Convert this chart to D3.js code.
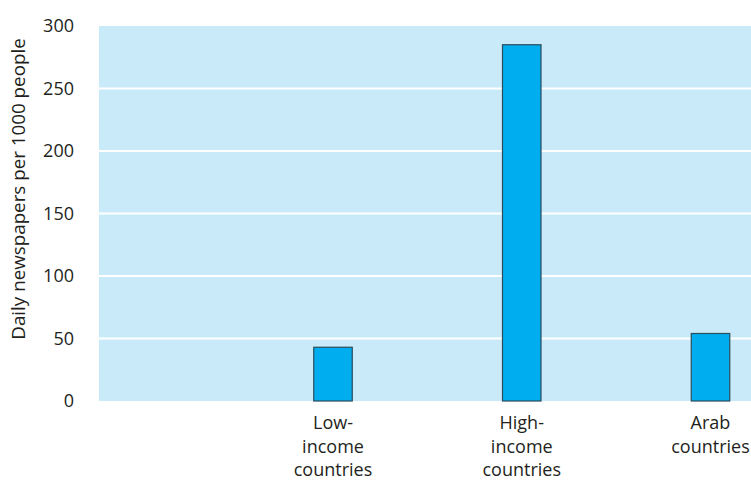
<!DOCTYPE html>
<html>
<head>
<meta charset="utf-8">
<script src="https://cdn.jsdelivr.net/npm/d3@7"></script>
<style>
  html, body { margin: 0; padding: 0; background: #fff; }
  svg { display: block; font-family: "Open Sans", "Noto Sans", sans-serif; }
</style>
</head>
<body>
<svg id="chart" width="751" height="480"></svg>
<script>
// Daily newspaper circulation by country group
const categories = ["Low-income countries", "High-income countries", "Arab countries"];
const categoryLines = [["Low-", "income", "countries"], ["High-", "income", "countries"], ["Arab", "countries"]];
const values = [43, 285, 54];
const yTicks = [0, 50, 100, 150, 200, 250, 300];
const yTitle = "Daily newspapers per 1000 people";

const svg = d3.select("#chart");
const plot = { left: 99, right: 751, top: 26, bottom: 401 };

const y = d3.scaleLinear().domain([0, 300]).range([plot.bottom, plot.top]);
const x = d3.scalePoint().domain(categories).range([333, 710.5]);
const barW = 38.5;

// panel background
svg.append("rect")
  .attr("x", plot.left).attr("y", plot.top)
  .attr("width", plot.right - plot.left).attr("height", plot.bottom - plot.top)
  .attr("fill", "#c9eaf9");

// horizontal gridlines
svg.append("g").selectAll("line")
  .data(yTicks.filter(d => d > 0 && d < 300))
  .join("line")
  .attr("x1", plot.left).attr("x2", plot.right)
  .attr("y1", d => y(d)).attr("y2", d => y(d))
  .attr("stroke", "#ffffff").attr("stroke-width", 2);

// y axis labels
const yAxis = d3.axisLeft(y).tickValues(yTicks).tickSize(0).tickPadding(0);
const yg = svg.append("g").attr("transform", `translate(${plot.left - 25},0)`).call(yAxis);
yg.select(".domain").remove();
yg.selectAll("text")
  .attr("font-size", 18).attr("fill", "#231f20")
  .attr("font-family", "'Open Sans', 'Noto Sans', sans-serif");

// y axis title
svg.append("text")
  .attr("transform", `translate(25,${189}) rotate(-90)`)
  .attr("text-anchor", "middle")
  .attr("font-size", 18.8)
  .attr("fill", "#231f20")
  .text(yTitle);

// bars
svg.append("g").selectAll("rect")
  .data(categories)
  .join("rect")
  .attr("x", d => x(d) - barW / 2)
  .attr("width", barW)
  .attr("y", (d, i) => y(values[i]))
  .attr("height", (d, i) => y(0) - y(values[i]))
  .attr("fill", "#00aeef")
  .attr("stroke", "#2b4c5c")
  .attr("stroke-width", 1.2);

// category labels
const lab = svg.append("g").selectAll("text")
  .data(categories)
  .join("text")
  .attr("text-anchor", "middle")
  .attr("font-size", 18)
  .attr("fill", "#231f20");
lab.each(function (d, i) {
  d3.select(this).selectAll("tspan")
    .data(categoryLines[i])
    .join("tspan")
    .attr("x", x(d))
    .attr("y", (t, j) => 429 + j * 23.5)
    .text(t => t);
});
</script>
</body>
</html>
